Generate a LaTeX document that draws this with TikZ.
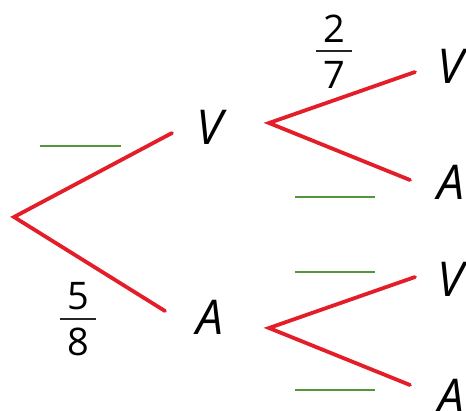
\documentclass[tikz,border=0pt]{standalone}
\usepackage{fontspec}
\setmainfont{Open Sans}
\definecolor{branchred}{RGB}{228,30,40}
\definecolor{blankgreen}{RGB}{85,150,60}
\tikzset{
  branch/.style={draw=branchred, line width=3.8pt, line cap=round, line join=miter},
  blank/.style={draw=blankgreen, line width=2.2pt},
  outcome/.style={font=\fontsize{48}{48}\selectfont\itshape, inner sep=0pt, anchor=west},
  digit/.style={font=\fontsize{38}{38}\selectfont, inner sep=0pt},
  bar/.style={draw=black!85, line width=2pt}
}
\begin{document}
\begin{tikzpicture}[x=1pt,y=-1pt]
\useasboundingbox (0,0) rectangle (466,410);
\clip (0,0) rectangle (466,410);
% branch points
\coordinate (r) at (14,217);
\coordinate (rV) at (172,133);
\coordinate (rA) at (165,311);
\coordinate (u) at (269,123);
\coordinate (uV) at (415,72);
\coordinate (uA) at (410,180);
\coordinate (l) at (269,328);
\coordinate (lV) at (415,277);
\coordinate (lA) at (410,385);
% branches
\draw[branch] (rV) -- (r) -- (rA);
\draw[branch] (uV) -- (u) -- (uA);
\draw[branch] (lV) -- (l) -- (lA);
% outcomes
\node[outcome] (V1) at (196,127) {V};
\node[outcome] (A1) at (196,317) {A};
\node[outcome] (V2) at (437,66) {V};
\node[outcome] (A2) at (437,182) {A};
\node[outcome] (V3) at (437,279) {V};
\node[outcome] (A3) at (437,396) {A};
% blanks
\coordinate (g1a) at (40,146); \coordinate (g1b) at (121,146);
\coordinate (g2a) at (295,197); \coordinate (g2b) at (375,197);
\coordinate (g3a) at (295,272); \coordinate (g3b) at (375,272);
\coordinate (g4a) at (295,390); \coordinate (g4b) at (375,390);
\draw[blank] (g1a) -- (g1b);
\draw[blank] (g2a) -- (g2b);
\draw[blank] (g3a) -- (g3b);
\draw[blank] (g4a) -- (g4b);
% fraction 5/8
\node[digit] (n5) at (78,296) {5};
\node[digit] (d8) at (78,342) {8};
\coordinate (b1a) at (60,319); \coordinate (b1b) at (96,319);
\draw[bar] (b1a) -- (b1b);
% fraction 2/7
\node[digit] (n2) at (334,29) {2};
\node[digit] (d7) at (334,75) {7};
\coordinate (b2a) at (316,51); \coordinate (b2b) at (352,51);
\draw[bar] (b2a) -- (b2b);
\end{tikzpicture}
\end{document}
